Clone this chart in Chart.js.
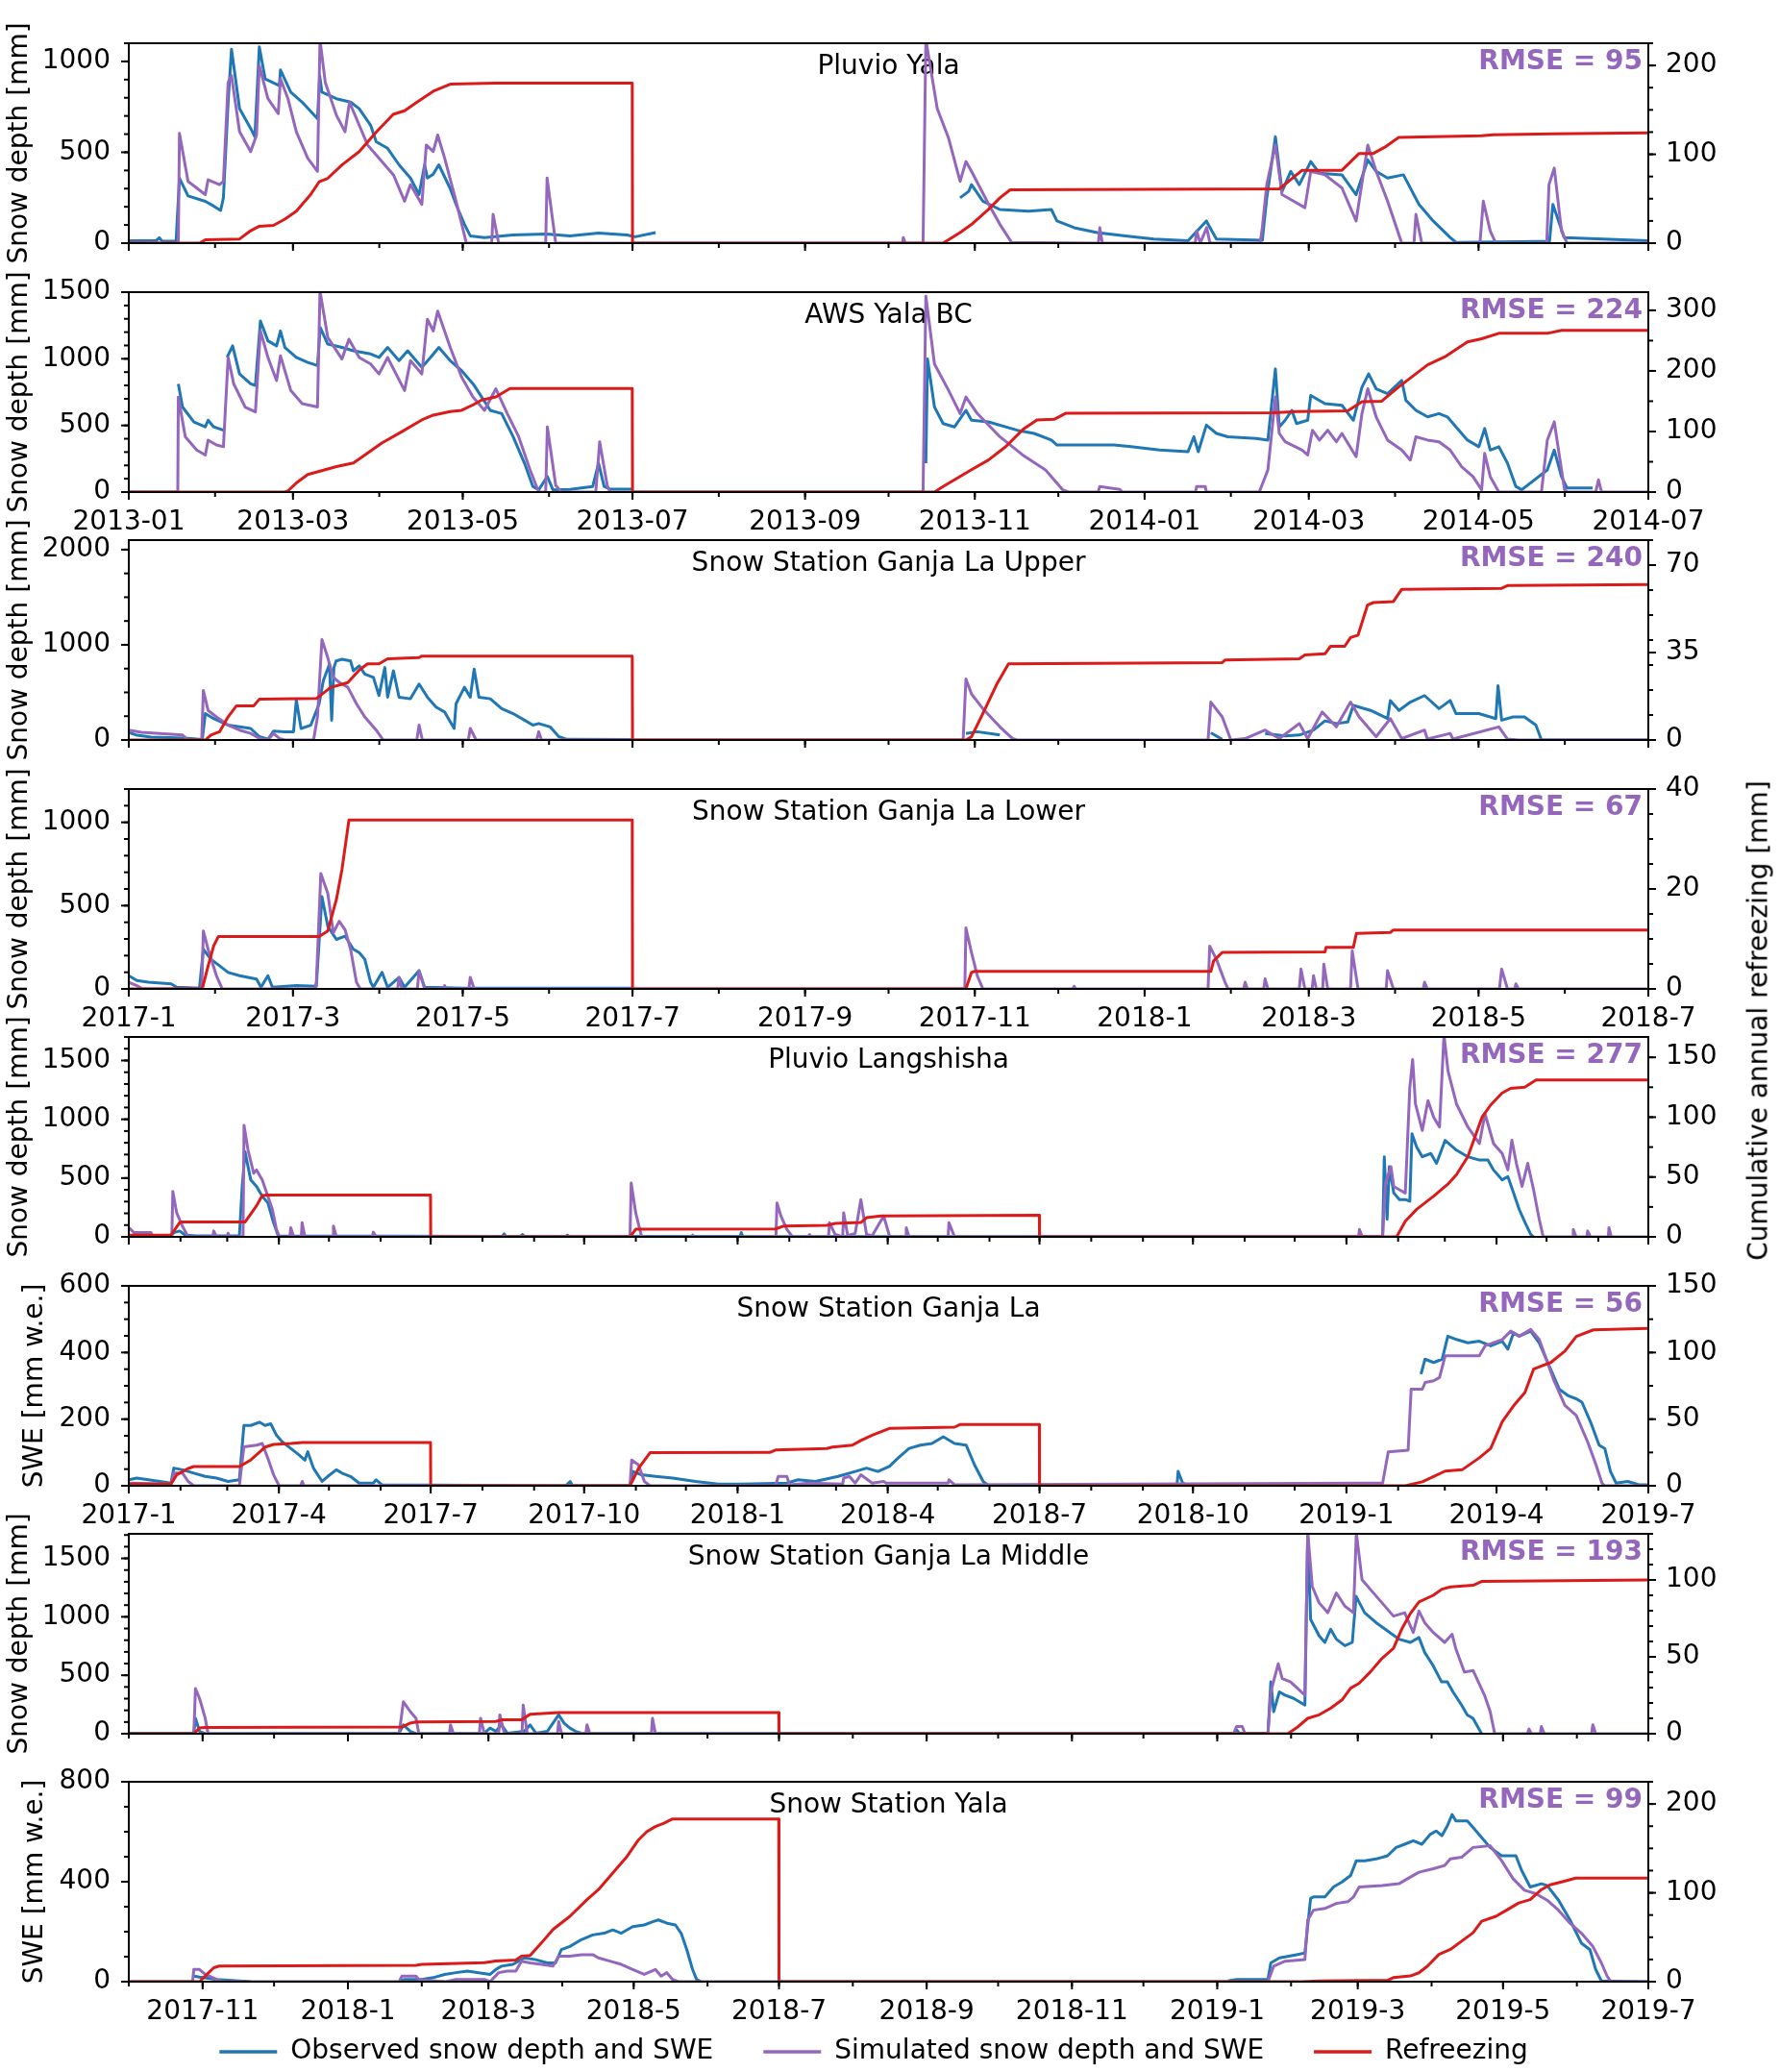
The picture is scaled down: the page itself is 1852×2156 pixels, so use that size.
<!DOCTYPE html>
<html>
<head>
<meta charset="utf-8">
<title>Snow depth, SWE and refreezing</title>
<script src="https://cdn.jsdelivr.net/npm/chart.js@4.4.1/dist/chart.umd.min.js"></script>
<style>
  html, body { margin: 0; padding: 0; background: #fff; overflow: hidden; }
  #fig { position: relative; width: 1852px; height: 2156px; overflow: hidden; }
  #fig canvas { position: absolute; left: 0; }
  #rightLabel {
    position: absolute; left: 1829px; top: 1062px; z-index: 5;
    font: 28px "DejaVu Sans", sans-serif; color: #000; white-space: nowrap;
    transform: translate(-50%, -50%) rotate(-90deg);
  }
</style>
</head>
<body>
<div id="fig">
  <div id="rightLabel">Cumulative annual refreezing [mm]</div>
</div>
<script>
// ---- x axes (days counted from the start date of each pair of panels) ----
const startA = '2013-01-01', endA = '2014-07';
const ticksA = ['2013-01','2013-03','2013-05','2013-07','2013-09','2013-11','2014-01','2014-03','2014-05','2014-07'];
const startB = '2017-01-01', endB = '2018-7';
const ticksB = ['2017-1','2017-3','2017-5','2017-7','2017-9','2017-11','2018-1','2018-3','2018-5','2018-7'];
const startC = '2017-01-01', endC = '2019-7';
const ticksC = ['2017-1','2017-4','2017-7','2017-10','2018-1','2018-4','2018-7','2018-10','2019-1','2019-4','2019-7'];
const startD = '2017-10-01', endD = '2019-7';
const ticksD = ['2017-11','2018-1','2018-3','2018-5','2018-7','2018-9','2018-11','2019-1','2019-3','2019-5','2019-7'];

// ---- y ticks ----
const depth1000 = [0, 500, 1000];
const depth1500 = [0, 500, 1000, 1500];
const depth2000 = [0, 1000, 2000];
const swe600 = [0, 200, 400, 600];
const swe800 = [0, 400, 800];
const refr200 = [0, 100, 200];
const refr300 = [0, 100, 200, 300];
const refr70 = [0, 35, 70];
const refr40 = [0, 20, 40];
const refr150 = [0, 50, 100, 150];
const refr100 = [0, 50, 100];

// ---- Pluvio Yala ----
const pluvioYalaObs = [[0,13],[10,15],[11,30],[12,10],[17,12],[18.2,358],[21.3,260],[27.5,230],[30.5,204],[33,180],[34,249],[35.7,776],[36.9,1067],[39.8,740],[43.8,631],[45.3,585],[46.9,1080],[49,904],[54.1,867],[54.5,953],[58.2,831],[62.3,776],[67.8,685],[68.6,922],[69.4,831],[74.6,795],[79.7,776],[82.8,740],[86.9,649],[88.9,558],[93,522],[97.1,431],[101.2,358],[104.3,267],[106.3,431],[107.3,358],[109.4,380],[111.4,431],[115.5,300],[117.6,213],[120.6,104],[122.7,40],[127.8,31],[138,45],[150,50],[158.5,40],[168.8,55],[179,45],[182,35],[189.3,58],[189.5,null],
  [298.7,249],[301.8,285],[302.8,322],[306.9,231],[313,185],[323.3,176],[331.5,185],[333.5,122],[339.7,85],[347.9,58],[358.1,40],[368.3,22],[380.6,13],[387.2,122],[390.8,22],[407.3,16],[408.9,249],[412,585],[414.4,285],[417.5,395],[420.6,322],[424.7,449],[427.8,385],[435.9,376],[441,267],[445.2,458],[448.2,395],[452.3,358],[458,376],[463.6,213],[468.7,122],[474.8,31],[476.9,4],[500,8],[510.5,10],[511.7,213],[515.8,31],[546,13]];
const pluvioYalaSim = [[0,0],[17.8,0],[18.2,604],[21.3,340],[27.5,267],[28.5,349],[32.6,322],[34,340],[35.7,885],[36.9,922],[39.8,613],[43.8,504],[45.9,595],[46.9,976],[50,795],[53.7,713],[54.5,904],[57.2,795],[60.2,613],[64.3,467],[67.8,395],[68.7,1120],[70.6,885],[74.6,704],[77.7,613],[79.3,776],[82.8,649],[85.8,540],[88.9,485],[95.1,376],[99.1,231],[101.2,322],[105.3,213],[106.9,540],[109.4,504],[111,595],[113.5,467],[117.6,231],[121.3,0],[130.4,0],[130.9,158],[132.9,0],[149.8,0],[150.3,358],[153.4,0],[278,0],[278.3,30],[279,0],[285.4,0],[286.4,1120],[290.5,740],[294.6,576],[298.7,340],[300.8,449],[302.8,395],[309,213],[313,104],[317.2,4],[348.4,0],[348.9,85],[349.8,0],[383.2,0],[383.7,67],[385,0],[387.3,85],[388.5,0],[406.5,0],[407.3,85],[408.9,322],[412,540],[414.4,267],[418.5,231],[422.6,195],[424.7,395],[429.8,376],[435.9,304],[441,122],[445.2,540],[448.2,395],[452.3,231],[457.4,0],[461.8,0],[462.5,158],[464.6,0],[485.5,0],[486.7,231],[489.2,67],[491.2,0],[509.5,0],[510.3,322],[512.2,413],[514.8,67],[516.8,0],[546,0]];
const pluvioYalaRefr = [[0,0],[25.4,0],[27.5,3.7],[39.7,4.5],[43.8,14],[46.9,19],[52,20],[56.1,27],[60.2,36],[65.4,55],[68.4,69],[71.5,73],[76.6,88],[82.8,103],[88.9,125],[95,145],[99.1,149],[103.2,158],[109.4,171],[115.5,179],[131.9,180],[180.9,180],[181,0],[292.6,0],[298.7,12],[302.8,21],[308.9,38],[313,51],[316.7,60],[413.4,61],[421.6,82],[435.9,82],[442.1,101],[447.2,101],[451.3,108],[456.3,119],[486.1,121],[490.2,122],[511.7,123],[546,124]];

// ---- AWS Yala BC ----
const awsYalaObs = [[17.8,812],[19.3,638],[23.4,526],[27.5,489],[28.5,539],[30.5,489],[34,464],[34.5,null],[35.3,1010],[37.3,1097],[39.8,886],[43.8,812],[45.5,800],[47.3,1284],[50,1135],[53.1,1097],[54.5,1209],[56.1,1085],[60.2,1010],[64.3,973],[67.8,949],[68.8,1234],[71.5,1110],[76.6,1085],[80.7,1060],[86.9,1036],[89.9,1010],[93,1085],[97.1,986],[100.2,1060],[105.3,936],[108.4,1010],[111.4,1085],[115.5,986],[119.6,911],[123.7,812],[126.8,713],[129.9,613],[134,589],[138.1,415],[142.2,216],[145.2,42],[147.3,17],[150.4,117],[152.4,17],[158.5,20],[166.7,42],[168.8,216],[170.8,42],[172.9,22],[180.7,22],[181,null],
  [286.4,216],[287,998],[289.5,638],[292.6,514],[296.7,489],[300.8,613],[302.8,539],[308.9,526],[319.2,464],[325.3,440],[331.5,390],[333.5,353],[354,353],[360.1,340],[370.4,315],[380.6,303],[382.7,415],[384.3,303],[387.2,502],[390.8,440],[394.9,415],[405.2,402],[409.3,390],[412,924],[413.4,489],[415.5,539],[417.9,613],[419.6,514],[423.6,539],[424.7,725],[429.8,663],[435.9,651],[440,539],[443.1,787],[445.5,886],[448.2,775],[452.3,738],[457.4,837],[458.9,688],[462.5,613],[466.7,564],[470.8,589],[473.8,564],[476.9,489],[481,390],[485.1,340],[487.2,477],[489.2,315],[492.3,340],[495.4,216],[498.4,42],[500.5,17],[509.7,166],[512.2,315],[514.8,117],[516.8,30],[526,30]];
const awsYalaSim = [[0,0],[17.6,0],[17.8,713],[20.3,415],[24.4,315],[27.5,278],[28.5,390],[31.5,353],[34,340],[35.7,1010],[37.7,812],[41.8,638],[45.5,601],[47.3,1209],[50,1010],[53.1,837],[54.5,1023],[58.2,762],[62.3,663],[67.8,638],[68.7,1510],[71.5,1160],[76.6,998],[79.1,1147],[82.8,1010],[86.9,961],[89.9,886],[93,1010],[99.1,762],[101.2,986],[105.3,886],[107.3,1296],[109.4,1209],[111,1358],[115.5,1085],[119.6,862],[123.7,713],[127.8,613],[131.9,775],[136,589],[140.1,415],[144.2,166],[147.3,0],[149.8,0],[150.4,489],[153.4,50],[155.5,0],[167.8,0],[169.2,377],[171.9,50],[172.9,0],[285.4,0],[286.4,1470],[289.5,961],[294.6,762],[298.7,589],[300.8,713],[304.9,589],[313,415],[321.2,278],[329.4,166],[335.6,17],[337.6,0],[348.3,0],[348.9,42],[356.1,20],[357.1,0],[383.3,0],[383.7,42],[386.8,42],[387.2,0],[406.2,0],[409.3,166],[412,713],[413.4,440],[415.5,377],[421.6,315],[423.6,278],[425.3,464],[427.8,390],[430.8,464],[433.9,377],[435.9,440],[441,265],[443.1,589],[445.2,775],[448.2,564],[452.3,390],[457.4,315],[460.5,240],[462.5,415],[466.7,390],[470.8,377],[474.8,315],[478.9,191],[483,116],[486.1,17],[487.2,290],[489.2,116],[492.3,0],[507.6,0],[509.7,390],[512.2,527],[515.9,17],[516.9,0],[527.1,0],[528.1,92],[529.2,0],[546,0]];
const awsYalaRefr = [[0,0],[56.1,0],[57.2,2],[60.2,15],[64.3,29],[68.4,34],[74.6,42],[80.7,48],[84.8,61],[90.9,81],[97.1,97],[105.3,119],[109.4,127],[115.5,133],[119.6,135],[123.7,144],[126.8,152],[131.9,157],[137,171],[180.9,171],[181,0],[289.5,0],[292.6,9],[302.8,37],[308.9,53],[315.1,75],[321.2,103],[326.3,119],[332.5,120],[336.6,130],[411.4,131],[419.6,133],[438,134],[443.1,149],[450.2,150],[456.4,174],[466.7,210],[472.8,223],[481,248],[486.1,253],[492.3,262],[509.7,262],[514.8,267],[546,267]];

// ---- Snow Station Ganja La Upper ----
const ganjaUpperObs = [[0,80],[3,50],[8,30],[20,20],[26.4,5],[27.5,277],[30.5,225],[35.7,156],[39.8,138],[43.8,121],[46.9,35],[50,7],[52,93],[56.1,87],[59.2,87],[60.2,422],[61.9,121],[65.4,156],[68.4,381],[69.9,623],[72.1,796],[72.9,208],[73.7,761],[74.5,830],[76.6,848],[79.7,830],[80.7,727],[82.8,779],[84.8,692],[87.9,657],[89.9,467],[92,761],[93,450],[95.1,727],[97.1,450],[101.2,433],[104.3,588],[107.3,450],[110.4,346],[113.5,294],[116.9,121],[117.6,381],[120.6,554],[122.7,450],[124.1,744],[125.8,450],[129.9,433],[134,329],[138.1,277],[142.2,208],[145.2,156],[147.3,173],[151.4,138],[154.5,35],[157.5,7],[181,5],[181.5,null],
  [300.8,69],[304.9,87],[313,52],[313.5,null],[388.8,76],[392.9,7],[393.5,null],[408.3,69],[415.5,42],[420.6,52],[425.7,104],[429.8,201],[433.9,173],[438,190],[440,363],[446.2,311],[452.3,225],[453.3,415],[456.4,311],[460.5,398],[465.6,467],[470.8,329],[474.8,415],[476.9,277],[485.1,277],[489.2,242],[491.2,225],[492,571],[493.3,208],[497.4,242],[501.5,242],[505.6,156],[507.6,0],[546,0]];
const ganjaUpperSim = [[0,104],[4.5,80],[19.3,52],[21.3,0],[26.2,0],[26.8,519],[28.5,311],[31.5,242],[35.7,156],[39.8,104],[43.8,69],[46.9,17],[50,0],[52,69],[54.1,17],[56.1,0],[66.4,0],[67.8,242],[69.4,1055],[71.5,865],[73.5,657],[75.6,606],[78.7,554],[81.8,381],[84.8,242],[88.9,104],[91.4,0],[103.5,0],[104.3,156],[105.5,0],[122,0],[122.7,121],[124.8,0],[146.6,0],[147.3,87],[148.3,0],[299.8,0],[300.8,640],[302.8,484],[306.9,329],[313,138],[317.5,17],[319.2,0],[387.8,0],[388.8,398],[392.9,242],[396,0],[401.1,15],[408.3,104],[413.4,15],[420.6,173],[423.6,15],[428.8,294],[433.9,138],[439,398],[442.1,242],[448.2,35],[453.3,225],[457.4,15],[465.6,104],[466.6,10],[474.8,69],[475.8,10],[492.3,138],[495.4,10],[499.4,0],[546,0]];
const ganjaUpperRefr = [[0,0],[27.5,0],[29.5,2],[32.6,3.3],[35.7,9.3],[38.7,13.7],[44.9,13.7],[46.9,16.3],[67.4,16.6],[72.5,21],[78.7,23],[82.8,28],[85.8,30.5],[89.9,30.5],[93,32.5],[104.3,33],[105.3,33.6],[180.9,33.6],[181,0],[300.8,0],[302.8,1.3],[306.9,10.6],[312,22.6],[316.1,30.5],[392.9,31],[393.9,32],[420.6,32.5],[422.6,34],[429.8,34.5],[431.8,37.5],[436.9,37.5],[439,41],[441.7,42],[445.1,54],[447.2,55],[454.4,55.4],[457.4,60.3],[493.3,60.7],[495.4,61.8],[546,62.2]];

// ---- Snow Station Ganja La Lower ----
const ganjaLowerObs = [[0,79],[2.9,50],[7,40],[15.2,30],[17.2,10],[25.4,5],[26.8,238],[29.5,178],[32.6,139],[35.7,99],[39.8,79],[45.9,59],[47.5,10],[50,79],[51.6,10],[60.2,20],[67.4,16],[69.4,554],[71.5,376],[74.6,297],[77.7,317],[80.7,238],[82.8,218],[84.8,178],[86.9,40],[87.9,10],[91,99],[93,10],[97.1,69],[99.1,10],[104.3,109],[106.3,10],[120,5],[181,5]];
const ganjaLowerSim = [[0,40],[2.9,20],[5,0],[26.2,0],[26.8,347],[28.5,238],[31.5,79],[33.6,0],[66.8,0],[67.4,40],[69,693],[71.5,574],[73.5,337],[75.6,406],[77.7,356],[79.7,238],[81.8,40],[83.2,0],[96.6,0],[97.1,69],[98.1,0],[103.7,0],[104.3,109],[106.3,0],[113,0],[113.5,20],[114,0],[122.2,0],[122.7,69],[124.1,0],[300.4,0],[300.8,366],[302.8,218],[304.9,79],[306.9,0],[339.2,0],[339.7,16],[340.2,0],[387.8,0],[388.4,257],[390.8,178],[393.9,40],[395,0],[400.6,0],[401.1,40],[402,0],[407.8,0],[408.3,60],[409.3,0],[420.6,0],[421.2,119],[422.6,0],[425.2,0],[425.7,79],[426.7,0],[429,0],[429.4,149],[430.8,0],[439,0],[439.6,228],[441.7,0],[451.8,0],[452.3,109],[454.4,0],[465.1,0],[465.6,40],[466.6,0],[492.5,0],[493.3,119],[495.4,0],[498,0],[498.4,30],[499.4,0],[546,0]];
const ganjaLowerRefr = [[0,0],[26.4,0],[28.5,4.6],[30.5,8.6],[32.2,10.5],[68.4,10.5],[71.5,11.6],[74.6,17.9],[76.6,23.9],[79.1,33.8],[180.9,33.8],[181,0],[300.8,0],[302.8,3.3],[303.9,3.5],[388.8,3.5],[389.8,5.6],[392.9,7.3],[429.8,7.4],[430.2,8.3],[440,8.3],[441.1,11.1],[453.3,11.3],[454.4,11.8],[546,11.8]];

// ---- Pluvio Langshisha ----
const langshishaObs = [[0,14],[4.8,8],[25.3,8],[27,36],[30.5,50],[33.9,14],[40.7,8],[66.3,8],[68,429],[69.7,723],[73.1,485],[76.6,429],[80,345],[83.4,289],[86.8,120],[89.6,8],[224,5],[225,25],[226,5],[235,5],[236,20],[237,5],[262,5],[263,15],[264,5],[366.5,5],[367.2,36],[368,5],[751.7,3],[752.7,681],[754.4,149],[755.7,597],[758.4,373],[761.8,317],[765.3,317],[768,303],[769.3,877],[772.1,765],[775.5,681],[780.6,709],[784,625],[789.2,821],[796,737],[802.8,681],[809.7,653],[814.8,653],[818.2,569],[823.4,485],[826.8,513],[830.2,373],[833.6,233],[837.1,121],[840.5,22],[842.2,0]];
const langshishaSim = [[0,78],[3.1,36],[13.3,36],[14.4,0],[25.8,0],[26.4,387],[28.7,205],[32.1,92],[35.6,0],[50.4,0],[50.9,50],[52.6,0],[59,0],[59.5,30],[60.5,0],[68.5,0],[69.1,948],[71.5,737],[74.9,541],[76.6,569],[80,485],[83.4,345],[86.1,233],[88.5,64],[90.3,0],[96.6,0],[97.1,78],[98.8,0],[103.4,0],[103.9,120],[105.6,0],[122.2,0],[122.7,92],[124.4,0],[146.1,0],[146.6,40],[148.3,0],[300.5,0],[301.2,457],[303.9,205],[307.3,10],[309.1,0],[337.6,0],[338.1,15],[339,0],[388,0],[388.6,289],[391,177],[394.5,64],[397.9,0],[407.6,0],[408.1,20],[409,0],[419.5,0],[420.1,120],[423.5,20],[428,0],[428.6,205],[431,10],[435.5,30],[438.9,317],[442.3,20],[445.7,10],[452.6,177],[456,10],[457.5,0],[465.6,0],[466.1,78],[467.8,0],[491.2,0],[491.7,120],[495.1,0],[737.3,0],[737.8,64],[739.5,0],[751.7,0],[753.4,457],[756.7,597],[758.4,429],[761.8,401],[765.3,373],[768,1270],[769.7,1508],[771.4,1130],[775.5,905],[778.9,1158],[782.3,1018],[785.8,934],[788.5,1720],[790.9,1410],[796,1130],[802.8,934],[809.7,793],[813.1,1046],[818.2,793],[823.4,709],[826.8,569],[829.2,821],[831.9,625],[835.3,429],[838.7,625],[842.2,401],[845.6,149],[848,0],[865.5,0],[866,64],[867.7,0],[874.1,0],[874.6,50],[876.3,0],[887,0],[887.4,78],[888.8,0],[911,0]];
const langshishaRefr = [[0,1.4],[25.3,1.4],[30.5,12],[32.2,12.4],[69.7,12.4],[76.6,26],[80,34.5],[83.4,35],[180.9,35],[181,0],[300.5,0],[303.9,6.4],[387.7,6.6],[392.8,9.1],[418.5,9.7],[423.5,11.3],[438.9,12],[442.3,16],[450.9,17.4],[545.9,18],[546,0],[760.1,0],[765.3,13],[772.1,23],[782.3,34],[790.8,44],[796,52],[802.8,67],[811.3,100],[816.4,110],[823.2,120],[828.4,124],[836.9,125],[843.7,131],[911,131]];

// ---- Snow Station Ganja La (SWE) ----
const ganjaLaObs = [[0,18],[4.8,23],[11.7,18],[18.5,13],[25.3,8],[27,53],[32.2,48],[39,38],[45.8,28],[52.6,23],[59.5,13],[66.3,18],[69,181],[73.1,181],[78.3,191],[81.7,181],[85.1,186],[88.5,152],[92,132],[97.1,112],[102.2,92],[105.6,77],[107.3,102],[110.7,53],[115.9,13],[119.3,28],[124.4,48],[127.8,38],[132.9,28],[138.1,8],[146.6,8],[148.3,18],[151.7,3],[262,0],[264.6,13],[266,0],[300.5,0],[302.2,43],[307.3,33],[315.8,28],[326.1,23],[339.7,13],[353.4,5],[367.1,5],[394.5,8],[401.3,18],[411.6,13],[425.2,28],[435.5,43],[442.3,53],[449.1,43],[456,58],[460.9,82],[467.8,112],[474.6,122],[481.5,127],[488.3,147],[495.1,127],[502,122],[507.1,62],[512.2,13],[515.6,0],[628.4,0],[629.1,43],[631.8,8],[635.2,0],[700,0],[700.5,null],[774.7,335],[777.1,380],[782.3,370],[787.4,380],[790.8,449],[796,439],[802.8,429],[809.7,434],[816.5,420],[823.4,434],[826.8,410],[830.2,459],[833.6,449],[840.5,464],[845.6,429],[850.7,370],[857.6,290],[862.7,271],[867.8,261],[871.2,251],[876.4,191],[881.5,122],[884.9,112],[888.3,43],[891.7,8],[898.6,13],[905.4,3],[911,3]];
const ganjaLaSim = [[0,8],[25.3,5],[27,38],[32.2,38],[35.6,13],[39,0],[66.3,0],[69,117],[76.6,122],[80,127],[83.4,82],[86.8,33],[89.6,5],[90.3,0],[103,0],[104,13],[105,0],[300.5,0],[301.5,77],[305.6,63],[309.1,13],[312.5,0],[387.7,0],[389.4,28],[394.5,28],[396.2,3],[408.1,8],[428,5],[428.6,23],[432,28],[435.5,8],[438.9,33],[445.7,8],[452.6,13],[454.1,8],[491.2,8],[491.7,18],[495.1,3],[737.8,8],[751.7,8],[755.1,102],[767,107],[768.8,290],[775.5,290],[777.2,310],[782.3,315],[785.8,325],[789.2,390],[809.7,390],[813.1,420],[823.4,439],[828.5,464],[833.6,449],[840.5,469],[845.6,439],[854.1,320],[861,241],[867.8,211],[874.6,132],[879.7,62],[883.2,8],[884.9,0],[911,0]];
const ganjaLaRefr = [[0,1.2],[25.3,1.2],[28.7,8.2],[35.6,13],[39,14.4],[66.3,14.4],[73.1,19.3],[81.7,29],[86.8,31],[97.1,31.7],[103.9,32.5],[180.9,32.5],[181,0],[300.5,0],[305.6,13],[312.5,24.8],[384.3,25],[387.7,26.8],[418.5,28],[421.8,29],[433.8,30.5],[438.9,34],[445.7,38],[456,43],[495.1,44],[498.5,46],[545.9,46],[546,0],[765.3,0],[775.5,3],[782.3,7],[789.2,11],[799.4,12],[809.7,21],[816.5,28],[823.4,48],[830.2,60],[837,70],[842.2,87.5],[847.3,90],[852.5,92.5],[861,101],[867.8,112],[878.1,117],[911,118]];

// ---- Snow Station Ganja La Middle ----
const ganjaMiddleObs = [[0,5],[27.3,5],[28,132],[29.7,20],[32.1,0],[113.5,5],[115.3,76],[118.2,20],[120.6,0],[149.3,5],[151.7,48],[154.1,20],[156.5,76],[158.9,5],[166.1,20],[168.5,76],[170.9,5],[175.7,20],[180.5,161],[182.8,90],[185.2,48],[187.6,20],[190,5],[273,3],[463.9,5],[465.1,34],[466.3,5],[478.3,5],[479.5,443],[480.7,189],[481.9,273],[483.1,358],[485.5,330],[489.1,302],[493.8,245],[495,1720],[496.2,978],[499.8,837],[502.2,781],[504.6,894],[507,809],[510.6,753],[513.7,781],[515.3,1175],[518.9,1035],[523.7,950],[528.5,880],[533.3,809],[538.1,781],[541.7,823],[544.1,696],[547.6,584],[551.2,443],[553.6,443],[556,358],[559.6,245],[562,161],[564.4,132],[568,0]];
const ganjaMiddleSim = [[0,0],[27.3,0],[28,386],[29.7,302],[32.1,132],[33.3,0],[113.5,0],[115.3,273],[118.2,189],[120.6,132],[121.8,0],[134.6,0],[135.1,76],[136.3,0],[147.2,0],[147.7,132],[149.3,0],[155.3,0],[155.8,161],[157.7,0],[165.1,0],[165.6,245],[167.3,0],[180,0],[180.5,104],[181.7,0],[191.9,0],[192.4,76],[193.6,0],[219.4,0],[219.9,132],[221.1,0],[463.9,0],[465.1,62],[467.5,62],[468.7,0],[478.3,0],[479.5,358],[482.6,598],[484.3,471],[487.8,443],[493.8,330],[495,1720],[496.9,1260],[499.8,1119],[503.4,1035],[507,1204],[510.6,1091],[514.2,1035],[515.4,1720],[517.8,1317],[521.4,1232],[526.2,1119],[531,1006],[535.7,1035],[539.3,866],[541.7,1049],[544.1,950],[547.7,866],[552.5,781],[555.6,851],[557.2,725],[560.8,527],[564.4,541],[569.2,330],[571.6,189],[573.5,0],[587.2,0],[587.9,40],[588.9,0],[592.6,0],[593.1,62],[594.3,0],[614.2,0],[614.7,76],[615.9,0],[638,0]];
const ganjaMiddleRefr = [[0,0],[27.3,0],[29.7,3.7],[32.1,4.1],[114.6,4.3],[118.2,6.9],[120.6,7.6],[154.1,8],[156.5,9],[164.9,9],[168.5,12.7],[180.5,13.8],[272.9,13.8],[273,0],[486.6,0],[490.2,3.7],[495,10],[499.8,12.3],[504.6,16.6],[509.4,22],[513,29.6],[516.6,32.8],[521.4,40.4],[526.2,49],[531,55.5],[534.6,68.5],[538.1,78.2],[541.7,85.7],[547.7,90],[551.3,94],[554.9,95.5],[564.4,96.5],[568,99],[638,100]];

// ---- Snow Station Yala (SWE) ----
const stationYalaObs = [[27.3,22],[29.7,18],[36.9,9],[46.4,3],[51.2,0],[52,null],[113.5,0],[115.8,9],[123,9],[127.8,16],[132.6,29],[137.4,36],[142.2,42],[146.9,36],[151.7,29],[154.1,49],[156.5,62],[161.3,69],[166.1,95],[170.9,88],[175.7,75],[179.2,75],[181.6,128],[185.2,141],[190,168],[194.8,187],[199.6,194],[203.2,207],[206.8,194],[211.6,220],[216.4,227],[220,240],[222.3,247],[226,234],[229.5,227],[231.9,194],[234.3,128],[236.7,49],[238.4,9],[240.3,0],[241,null],[461.5,3],[465.1,9],[478.3,9],[479.5,75],[483.1,95],[485.5,99],[490.3,108],[493.8,115],[496.2,333],[497.4,339],[502.2,339],[505.8,379],[509.4,399],[513,425],[515.4,484],[519,484],[523.7,491],[528.5,504],[532.1,537],[535.7,550],[539.3,564],[542.9,550],[546.5,590],[548.9,603],[551.3,584],[553.6,623],[555.6,669],[557.2,643],[562,643],[564.4,617],[568,577],[571.6,537],[576.4,504],[582.4,504],[584.8,445],[588.4,379],[593.1,392],[595.5,385],[600.3,326],[605.1,247],[609.9,154],[613.5,128],[615.9,49],[618.3,3],[638,0]];
const stationYalaSim = [[0,0],[26.8,0],[27.3,49],[29.7,49],[32.1,29],[36.9,9],[39.3,0],[113.5,0],[114.7,22],[120.6,22],[121.8,8],[133,0],[137.4,9],[149.3,9],[151.7,0],[155.3,36],[158.9,42],[162.5,42],[164.9,82],[168.5,75],[173.3,69],[178.1,62],[180.5,102],[185.2,102],[190,108],[194.8,108],[197.2,95],[202,82],[206.8,69],[211.6,49],[216.4,29],[221.1,49],[223.5,22],[225.9,36],[228.3,9],[230.7,0],[478.3,0],[480.7,62],[485.5,82],[493.8,88],[495,247],[497.4,286],[502.2,293],[507,313],[511.8,320],[514.2,339],[516.6,379],[526.2,385],[533.3,392],[536.9,412],[541.7,438],[547.7,452],[552.5,465],[554.9,491],[559.6,498],[564.4,537],[571.6,544],[576.4,484],[581.2,412],[586,366],[590.8,352],[595.5,326],[600.3,286],[605.1,234],[609.9,194],[614.7,141],[618.3,75],[620.7,22],[621.9,5],[623,0],[638,0]];
const stationYalaRefr = [[0,0],[29.7,0],[32.1,6.4],[35.7,15.7],[38,17.6],[120.6,18.3],[123,19.4],[149.3,21.3],[154.1,23.2],[162.5,24.3],[164.9,28.8],[168.5,29.5],[173.3,43.7],[178.1,58.7],[185.2,73.6],[192.4,92.3],[197.2,103.6],[204.4,126],[209.2,141],[214,159.6],[217.6,169],[221.1,174.6],[224.7,178.3],[228.3,183.2],[272.9,183.2],[273,0],[492.6,0],[499.8,0.7],[528.5,1.5],[530.9,4.5],[538.1,6.4],[541.7,10],[545.3,17.6],[550.1,30.7],[554.9,36.3],[559.6,45.6],[564.4,55],[568,68],[574,73.6],[578.8,81],[583.6,88.6],[588.4,92.3],[593.1,103.6],[596.7,109],[602.7,113],[607.5,116.6],[638,116.6]];

// ---- styling ----
const BLUE = '#1f77b4', PURPLE = '#9467bd', RED = '#db1a1a';
const FONT = 'DejaVu Sans';
const FS = 28;
Chart.defaults.font.family = FONT;
Chart.defaults.font.size = FS;
Chart.defaults.color = '#000';

const depthLabel = 'Snow depth [mm]', sweLabel = 'SWE [mm w.e.]';

const panels = [
  { title: 'Pluvio Yala', rmse: 'RMSE = 95', obs: pluvioYalaObs, sim: pluvioYalaSim, refr: pluvioYalaRefr,
    start: startA, end: endA, xLabels: ticksA, showX: false, yTitle: depthLabel,
    yMax: 1100, yTicks: depth1000, yMinor: 100, rMax: 225, rTicks: refr200, rMinor: 25, top: 45 },
  { title: 'AWS Yala BC', rmse: 'RMSE = 224', obs: awsYalaObs, sim: awsYalaSim, refr: awsYalaRefr,
    start: startA, end: endA, xLabels: ticksA, showX: true, yTitle: depthLabel,
    yMax: 1500, yTicks: depth1500, yMinor: 100, rMax: 330, rTicks: refr300, rMinor: 50, top: 304 },
  { title: 'Snow Station Ganja La Upper', rmse: 'RMSE = 240', obs: ganjaUpperObs, sim: ganjaUpperSim, refr: ganjaUpperRefr,
    start: startB, end: endB, xLabels: ticksB, showX: false, yTitle: depthLabel,
    yMax: 2100, yTicks: depth2000, yMinor: 250, rMax: 80, rTicks: refr70, rMinor: 10, top: 562 },
  { title: 'Snow Station Ganja La Lower', rmse: 'RMSE = 67', obs: ganjaLowerObs, sim: ganjaLowerSim, refr: ganjaLowerRefr,
    start: startB, end: endB, xLabels: ticksB, showX: true, yTitle: depthLabel,
    yMax: 1200, yTicks: depth1000, yMinor: 100, rMax: 40, rTicks: refr40, rMinor: 5, top: 821 },
  { title: 'Pluvio Langshisha', rmse: 'RMSE = 277', obs: langshishaObs, sim: langshishaSim, refr: langshishaRefr,
    start: startC, end: endC, xLabels: ticksC, showX: false, yTitle: depthLabel,
    yMax: 1700, yTicks: depth1500, yMinor: 100, rMax: 167, rTicks: refr150, rMinor: 25, top: 1079 },
  { title: 'Snow Station Ganja La', rmse: 'RMSE = 56', obs: ganjaLaObs, sim: ganjaLaSim, refr: ganjaLaRefr,
    start: startC, end: endC, xLabels: ticksC, showX: true, yTitle: sweLabel,
    yMax: 600, yTicks: swe600, yMinor: 50, rMax: 150, rTicks: refr150, rMinor: 25, top: 1338 },
  { title: 'Snow Station Ganja La Middle', rmse: 'RMSE = 193', obs: ganjaMiddleObs, sim: ganjaMiddleSim, refr: ganjaMiddleRefr,
    start: startD, end: endD, xLabels: ticksD, showX: false, yTitle: depthLabel,
    yMax: 1710, yTicks: depth1500, yMinor: 100, rMax: 130, rTicks: refr100, rMinor: 10, top: 1596 },
  { title: 'Snow Station Yala', rmse: 'RMSE = 99', obs: stationYalaObs, sim: stationYalaSim, refr: stationYalaRefr,
    start: startD, end: endD, xLabels: ticksD, showX: true, yTitle: sweLabel,
    yMax: 800, yTicks: swe800, yMinor: 100, rMax: 225, rTicks: refr200, rMinor: 25, top: 1854 }
];

// Helpers
const DAY = 86400000;
const utc = (s) => { const [y, m, d] = s.split('-').map(Number); return Date.UTC(y, m - 1, d || 1); };
const dayOf = (label, start) => (utc(label) - utc(start)) / DAY;

function monthStarts(start, end) {
  const out = [];
  const stop = utc(end);
  let [y, m] = start.split('-').map(Number);
  for (;;) {
    const t = Date.UTC(y, m - 1, 1);
    if (t > stop) break;
    out.push((t - utc(start)) / DAY);
    m++; if (m > 12) { m = 1; y++; }
  }
  return out;
}

const steps = (max, step) => { const a = []; for (let v = 0; v <= max + 1e-9; v += step) a.push(v); return a; };

// frame, ticks and panel texts
function panelDecor(p, xMajor, xMinor) {
  return {
    id: 'panelDecor',
    afterLayout(chart) {
      // legend sits right under the last panel's tick labels
      const lg = chart.legend;
      if (!lg || !lg.options.display) return;
      const h = lg.height;
      lg.top = chart.chartArea.bottom + 7;
      lg.bottom = lg.top + h;
      lg.left -= 17;
      lg.right -= 17;
    },
    beforeDatasetsDraw(chart) {
      const { ctx, chartArea: a } = chart;
      ctx.save();
      ctx.textBaseline = 'alphabetic';
      ctx.font = `${FS}px "${FONT}"`;
      ctx.fillStyle = '#000';
      ctx.textAlign = 'center';
      ctx.fillText(p.title, (a.left + a.right) / 2, a.top + 32);
      ctx.font = `bold ${FS}px "${FONT}"`;
      ctx.fillStyle = PURPLE;
      ctx.textAlign = 'right';
      ctx.fillText(p.rmse, a.right - 6, a.top + 27);
      ctx.restore();
    },
    afterDatasetsDraw(chart) {
      const { ctx, chartArea: a, scales } = chart;
      const line = (x1, y1, x2, y2) => { ctx.beginPath(); ctx.moveTo(x1, y1); ctx.lineTo(x2, y2); ctx.stroke(); };
      ctx.save();
      ctx.strokeStyle = '#000';
      ctx.lineWidth = 2;
      ctx.strokeRect(a.left, a.top, a.right - a.left, a.bottom - a.top);
      xMinor.forEach(d => { const x = scales.x.getPixelForValue(d); line(x, a.bottom, x, a.bottom + 5); });
      xMajor.forEach(d => { const x = scales.x.getPixelForValue(d); line(x, a.bottom, x, a.bottom + 8); });
      steps(p.yMax, p.yMinor).forEach(v => { const y = scales.y.getPixelForValue(v); line(a.left, y, a.left - 5, y); });
      p.yTicks.forEach(v => { const y = scales.y.getPixelForValue(v); line(a.left, y, a.left - 8, y); });
      steps(p.rMax, p.rMinor).forEach(v => { const y = scales.y2.getPixelForValue(v); line(a.right, y, a.right + 5, y); });
      p.rTicks.forEach(v => { const y = scales.y2.getPixelForValue(v); line(a.right, y, a.right + 8, y); });
      ctx.restore();
    }
  };
}

const fig = document.getElementById('fig');

panels.forEach((p, i) => {
  const isLast = i === panels.length - 1;
  const canvas = document.createElement('canvas');
  canvas.width = 1852;
  canvas.height = isLast ? 394 : 304;
  canvas.style.top = (p.top - 40) + 'px';
  fig.appendChild(canvas);

  const xMajor = p.xLabels.map(l => dayOf(l, p.start));
  const xMinor = monthStarts(p.start, p.end);
  const xMax = dayOf(p.end, p.start);

  new Chart(canvas, {
    type: 'line',
    data: {
      datasets: [
        { label: 'Observed snow depth and SWE', data: p.obs, borderColor: BLUE, yAxisID: 'y', order: 3 },
        { label: 'Simulated snow depth and SWE', data: p.sim, borderColor: PURPLE, yAxisID: 'y', order: 2 },
        { label: 'Refreezing', data: p.refr, borderColor: RED, yAxisID: 'y2', order: 1 }
      ]
    },
    options: {
      responsive: false,
      animation: false,
      devicePixelRatio: 1,
      events: [],
      layout: { padding: { top: 40, left: 0, right: 0, bottom: 0 } },
      elements: {
        line: { borderWidth: 3, tension: 0, fill: false, borderJoinStyle: 'round', borderCapStyle: 'butt' },
        point: { radius: 0 }
      },
      plugins: {
        tooltip: { enabled: false },
        legend: {
          display: isLast,
          position: 'bottom',
          labels: {
            usePointStyle: true,
            pointStyleWidth: 60,
            padding: 52,
            color: '#000',
            font: { family: FONT, size: FS },
            generateLabels: chart => chart.data.datasets.map((ds, k) => ({
              text: ds.label, strokeStyle: ds.borderColor, fillStyle: ds.borderColor,
              lineWidth: 3.5, pointStyle: 'line', datasetIndex: k, hidden: false, fontColor: '#000'
            }))
          }
        }
      },
      scales: {
        x: {
          type: 'linear', min: 0, max: xMax,
          grid: { display: false, drawTicks: false }, border: { display: false },
          afterBuildTicks: s => { s.ticks = xMajor.map(v => ({ value: v })); },
          afterFit: s => { s.height = 56; },
          ticks: {
            autoSkip: false, maxRotation: 0, minRotation: 0, padding: 15,
            callback: (v, idx) => (p.showX ? p.xLabels[idx] : '')
          }
        },
        y: {
          position: 'left', min: 0, max: p.yMax,
          grid: { display: false, drawTicks: false }, border: { display: false },
          afterBuildTicks: s => { s.ticks = p.yTicks.map(v => ({ value: v })); },
          afterFit: s => { s.width = 134; },
          ticks: { padding: 19, callback: v => String(v) },
          title: { display: true, text: p.yTitle, padding: { top: p.yTitle === sweLabel ? 20 : 4, bottom: 0 } }
        },
        y2: {
          position: 'right', min: 0, max: p.rMax,
          grid: { display: false, drawTicks: false }, border: { display: false },
          afterBuildTicks: s => { s.ticks = p.rTicks.map(v => ({ value: v })); },
          afterFit: s => { s.width = 137; },
          ticks: { padding: 18, callback: v => String(v) }
        }
      }
    },
    plugins: [panelDecor(p, xMajor, xMinor)]
  });
});
</script>
</body>
</html>
